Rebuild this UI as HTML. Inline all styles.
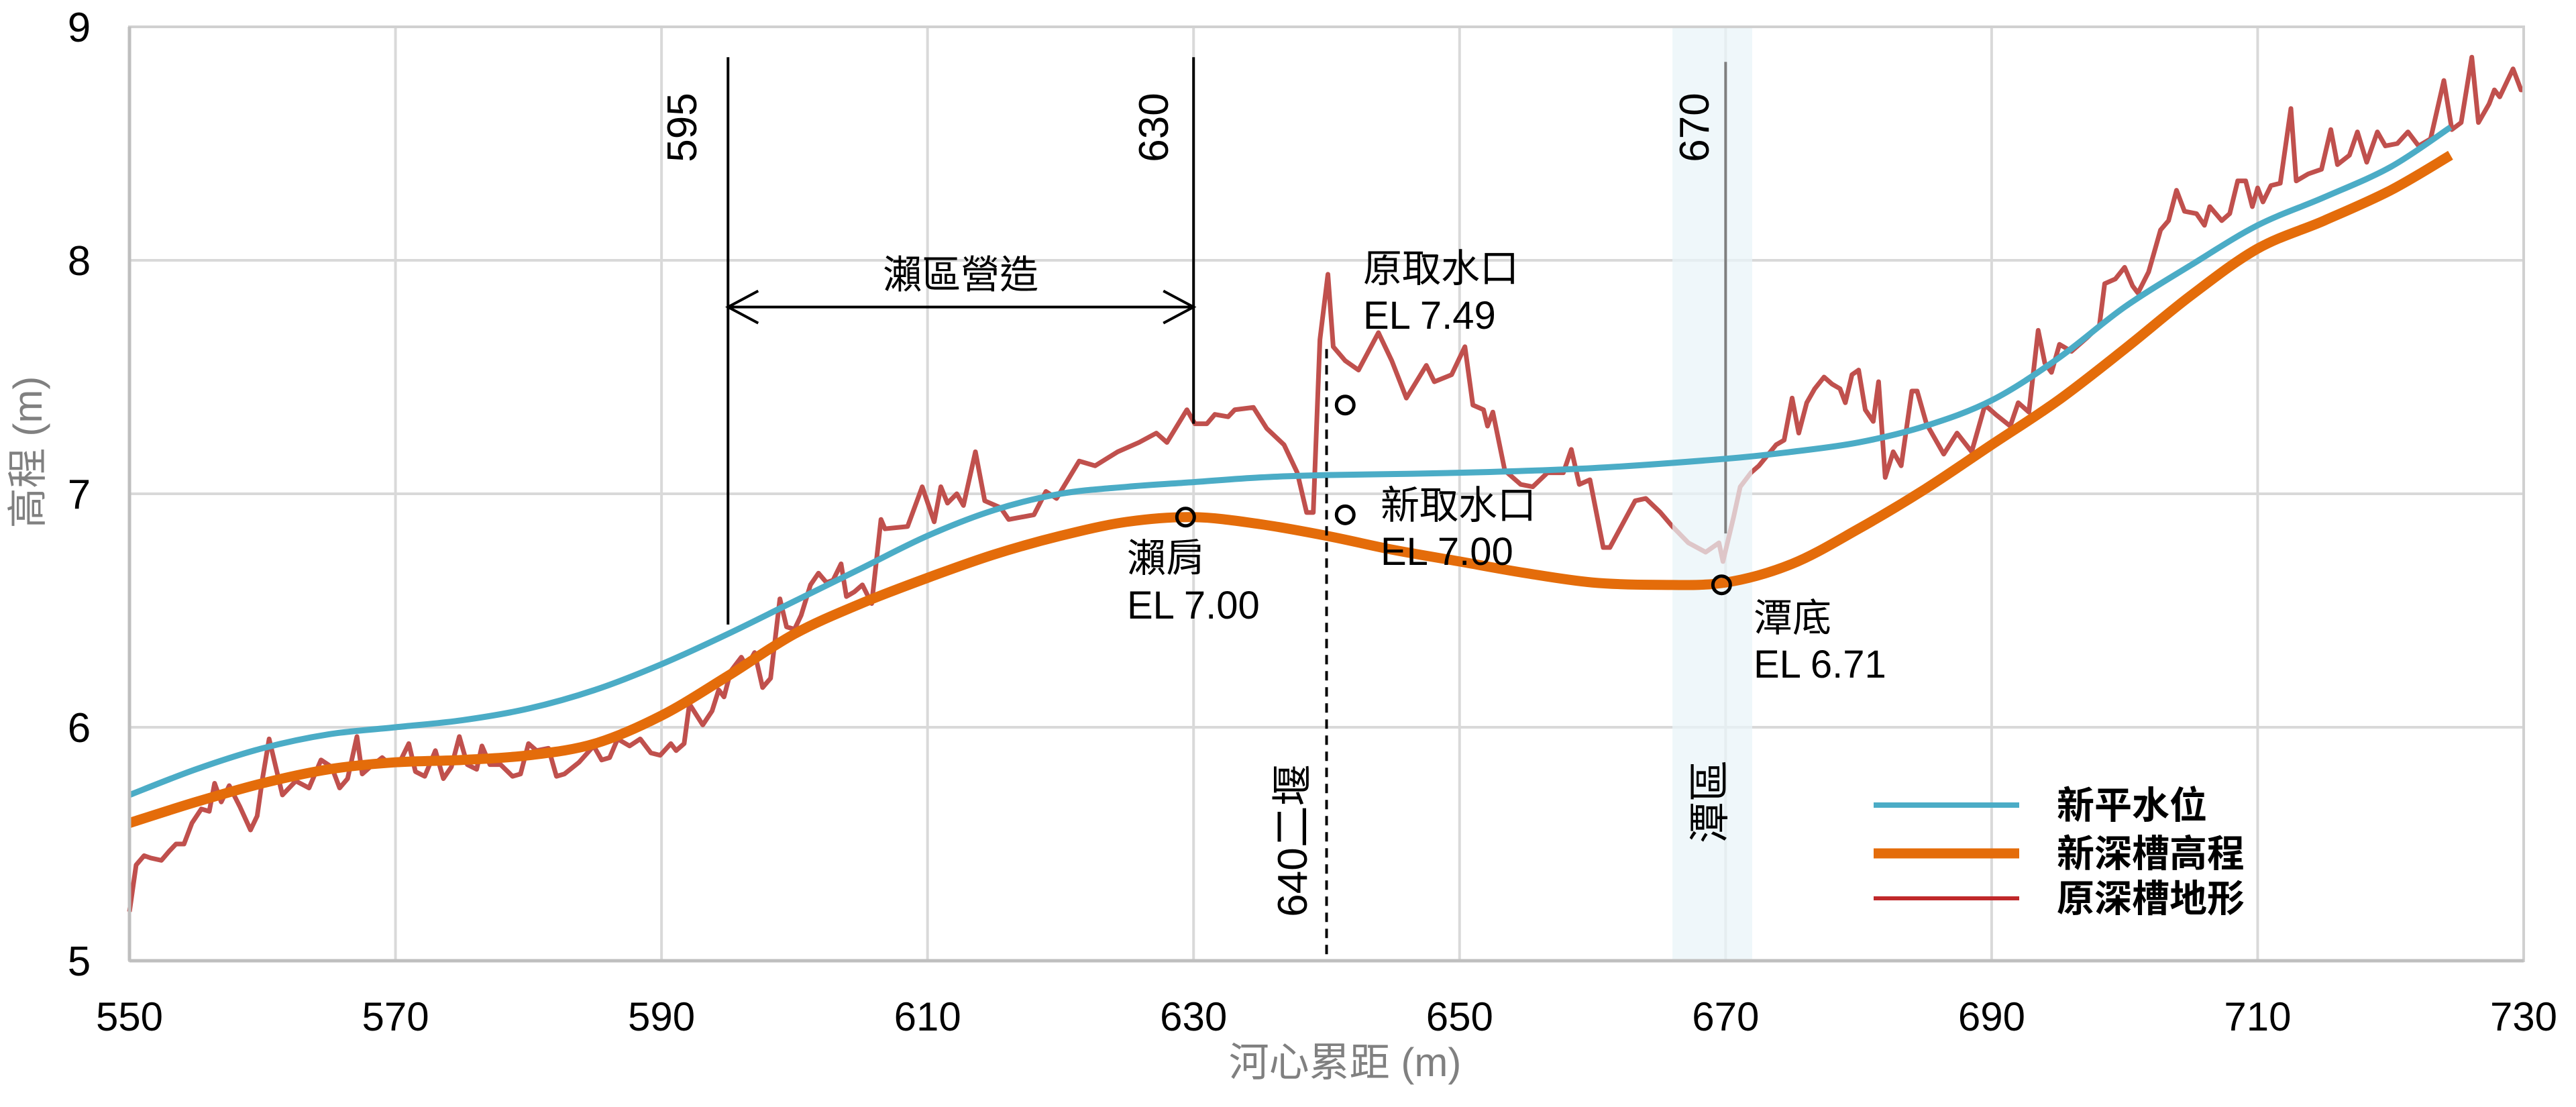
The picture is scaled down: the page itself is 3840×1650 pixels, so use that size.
<!DOCTYPE html>
<html><head><meta charset="utf-8">
<style>
html,body{margin:0;padding:0;background:#fff;}
svg{display:block;font-family:"Liberation Sans","Noto Sans CJK TC",sans-serif;}
</style></head>
<body>
<svg id="chart" width="3840" height="1650" viewBox="0 0 3840 1650" xmlns="http://www.w3.org/2000/svg">
<g id="grid"></g>
<g id="series"></g>
<g id="annot"></g>
<g id="axes"></g>
<g id="legend"></g>
</svg>
<script>
const xTicks=[550,570,590,610,630,650,670,690,710,730];
const yTicks=[5,6,7,8,9];
const waterX=[550,555,560,565,570,575,580,585,590,595,600,605,610,615,620,625,630,635,640,650,660,670,675,680,685,690,695,700,705,710,715,720,724.5];
const waterY=[5.71,5.82,5.91,5.97,6.00,6.03,6.08,6.16,6.27,6.40,6.54,6.68,6.82,6.93,7.00,7.03,7.05,7.07,7.08,7.09,7.11,7.15,7.18,7.22,7.29,7.40,7.58,7.80,7.98,8.15,8.27,8.40,8.57];
const bedX=[550,555,560,565,570,575,580,585,590,595,600,605,610,615,620,625,630,635,640,645,650,655,660,665,670,675,680,685,690,695,700,705,710,715,720,724.5];
const bedY=[5.59,5.68,5.76,5.82,5.85,5.86,5.88,5.93,6.05,6.22,6.40,6.53,6.64,6.74,6.82,6.88,6.90,6.87,6.82,6.76,6.71,6.66,6.62,6.61,6.62,6.70,6.85,7.02,7.21,7.40,7.62,7.85,8.05,8.17,8.30,8.45];
const terrX=[550,550.5,551.1,551.6,552.4,553,553.5,554.1,554.7,555.4,556,556.4,556.9,557.5,558.3,559.1,559.6,560,560.5,561,561.5,562.5,563.5,564.4,565.2,565.8,566.4,567.1,567.5,568.1,569,569.6,570.4,571,571.5,572.2,573,573.6,574.2,574.8,575.4,576.1,576.5,577.1,577.9,578.8,579.4,580,580.6,581.5,582.1,582.7,583.8,584.9,585.5,586.1,586.7,587.6,588.4,589.2,589.9,590.7,591.1,591.7,592.1,593.1,593.8,594.3,594.7,595.2,596,596.4,597,597.6,598.2,598.9,599.4,600,600.5,601.2,601.8,602.4,602.9,603.5,603.9,604.5,605.1,605.8,606.5,606.8,608.5,609.6,610.5,611,611.5,612.2,612.7,613.6,614.3,615.5,616.1,618,618.9,619.7,621.4,622.6,624.3,625.9,627.2,628,629.5,630.1,631,631.6,632.6,633.1,634.5,635.5,636.8,637.8,638.5,639,639.5,640.1,640.5,641.4,642.4,643.9,644.9,646,647.5,648.1,649.4,650.4,651,651.8,652.1,652.5,653.4,654.6,655.5,656.6,657.8,658.4,659,659.8,660.8,661.3,663.2,664,665.1,666,667.2,668.5,669.5,669.8,670.6,671.1,671.9,672.5,673.8,674.4,675,675.5,676.1,676.7,677.4,678,678.6,679,679.5,680,680.5,681.1,681.5,682,682.6,683.2,684,684.4,685.1,686.4,687.4,688.5,689.5,690.3,691.4,692,692.8,693.5,694,694.5,695.1,696,697.2,698.1,698.5,699.3,700,700.6,701,701.8,702.7,703.3,703.9,704.5,705.4,706,706.4,707.3,707.9,708.5,709.1,709.6,710,710.4,711,711.7,712.5,712.9,713.8,714.8,715.5,716,716.9,717.5,718.2,719,719.6,720.5,721.3,722.1,723,724,724.6,725.3,726.1,726.6,727.4,727.8,728.2,729.2,729.8,730];
const terrY=[5.21,5.41,5.45,5.44,5.43,5.47,5.50,5.50,5.59,5.65,5.64,5.76,5.68,5.75,5.66,5.56,5.62,5.78,5.95,5.83,5.71,5.77,5.74,5.86,5.83,5.74,5.78,5.96,5.80,5.83,5.87,5.84,5.86,5.93,5.81,5.79,5.90,5.78,5.83,5.96,5.84,5.82,5.92,5.84,5.84,5.79,5.80,5.93,5.90,5.91,5.79,5.80,5.85,5.92,5.86,5.87,5.95,5.92,5.95,5.89,5.88,5.93,5.90,5.93,6.10,6.01,6.07,6.16,6.13,6.24,6.30,6.26,6.32,6.17,6.21,6.55,6.43,6.42,6.48,6.61,6.66,6.62,6.63,6.70,6.56,6.58,6.61,6.53,6.89,6.85,6.86,7.03,6.88,7.03,6.96,7.00,6.95,7.18,6.97,6.94,6.89,6.91,7.01,6.98,7.14,7.12,7.18,7.22,7.26,7.22,7.36,7.30,7.30,7.34,7.33,7.36,7.37,7.28,7.21,7.09,6.92,6.92,7.66,7.94,7.63,7.57,7.53,7.69,7.57,7.41,7.55,7.48,7.51,7.63,7.38,7.36,7.29,7.35,7.10,7.04,7.03,7.09,7.09,7.19,7.04,7.06,6.77,6.77,6.97,6.98,6.92,6.86,6.79,6.75,6.79,6.71,6.90,7.03,7.09,7.12,7.21,7.23,7.41,7.26,7.39,7.45,7.50,7.47,7.45,7.39,7.51,7.53,7.36,7.31,7.48,7.07,7.18,7.12,7.44,7.44,7.30,7.17,7.26,7.18,7.38,7.34,7.29,7.39,7.35,7.70,7.56,7.52,7.64,7.61,7.67,7.72,7.90,7.92,7.97,7.89,7.86,7.95,8.13,8.17,8.30,8.21,8.20,8.15,8.23,8.17,8.20,8.34,8.34,8.23,8.31,8.25,8.32,8.33,8.65,8.34,8.37,8.39,8.56,8.41,8.45,8.55,8.42,8.55,8.49,8.50,8.55,8.49,8.52,8.77,8.56,8.59,8.87,8.59,8.67,8.73,8.70,8.82,8.73,8.73];

const L=193,R=3762,T=40,B=1432,X0=550,X1=730,Y0=5,Y1=9;
const sx=v=>L+(v-X0)/(X1-X0)*(R-L);
const sy=v=>B-(v-Y0)/(Y1-Y0)*(B-T);
const NS="http://www.w3.org/2000/svg";
function mk(tag,parent,attrs,text){const e=document.createElementNS(NS,tag);for(const k in attrs)e.setAttribute(k,attrs[k]);if(text!==undefined)e.textContent=text;document.getElementById(parent).appendChild(e);return e;}
function smooth(xs,ys){const p=xs.map((x,i)=>[sx(x),sy(ys[i])]);let d=`M${p[0][0]},${p[0][1]}`;for(let i=0;i<p.length-1;i++){const p0=p[Math.max(i-1,0)],p1=p[i],p2=p[i+1],p3=p[Math.min(i+2,p.length-1)];const c1=[p1[0]+(p2[0]-p0[0])/6,p1[1]+(p2[1]-p0[1])/6],c2=[p2[0]-(p3[0]-p1[0])/6,p2[1]-(p3[1]-p1[1])/6];d+=`C${c1[0]},${c1[1]} ${c2[0]},${c2[1]} ${p2[0]},${p2[1]}`;}return d;}

// grid
xTicks.forEach(t=>{const g=mk('line','grid',{x1:sx(t),x2:sx(t),y1:T,y2:B,stroke:'#d9d9d9','stroke-width':4});

});
yTicks.forEach(t=>{const g=mk('line','grid',{x1:L,x2:R,y1:sy(t),y2:sy(t),stroke:'#d9d9d9','stroke-width':4});

});

// terrain
const tp=mk('polyline','series',{points:terrX.map((x,i)=>sx(x)+','+sy(terrY[i])).join(' '),fill:'none',stroke:'#c0504d','stroke-width':7,'stroke-linejoin':'round'});


// pool zone band
const band=mk('rect','series',{x:sx(666),y:T,width:sx(672)-sx(666),height:B-T,fill:'#e9f4f8','fill-opacity':0.72});


const gl=mk('line','series',{x1:sx(670),x2:sx(670),y1:sy(8.85),y2:sy(6.83),stroke:'#7f7f7f','stroke-width':4});


const wp=mk('path','series',{d:smooth(waterX,waterY),fill:'none',stroke:'#4bacc6','stroke-width':9});


const bp=mk('path','series',{d:smooth(bedX,bedY),fill:'none',stroke:'#e46c0a','stroke-width':15});



// annotations
function vline(x,y1,y2,name,dash){const e=mk('line','annot',{x1:sx(x),x2:sx(x),y1:sy(y1),y2:sy(y2),stroke:'#000','stroke-width':4});if(dash)e.setAttribute('stroke-dasharray','14 10');

}
vline(595,8.87,6.44,'station-595-line');
vline(630,8.87,7.30,'station-630-line');
vline(640,7.62,5,'weir-640-dashed-line',true);
const ay=sy(7.8);
const ar=mk('path','annot',{d:`M${sx(595)},${ay}H${sx(630)}M${sx(595)+45},${ay-24}L${sx(595)},${ay}L${sx(595)+45},${ay+24}M${sx(630)-45},${ay-24}L${sx(630)},${ay}L${sx(630)-45},${ay+24}`,fill:'none',stroke:'#000','stroke-width':4});


function txt(x,y,s,name,opts){const o=Object.assign({'font-size':58,fill:'#000'},opts||{});o.x=x;o.y=y;const e=mk('text','annot',o,s);

return e;}
function rtxt(x,y,s,name){const e=mk('text','annot',{x:0,y:0,'font-size':62,'text-anchor':'middle',transform:`translate(${x},${y}) rotate(-90)`},s);

}
rtxt(1038,190,'595','label-595');
rtxt(1741,190,'630','label-630');
rtxt(2547,190,'670','label-670');
rtxt(1948,1253,'640二堰','label-640-weir');
rtxt(2570,1195,'潭區','label-pool-zone');
txt(sx(612.5),sy(7.8)-28,'瀨區營造','label-riffle-construction',{'text-anchor':'middle'});
txt(2032,420,'原取水口','label-old-intake');
txt(2032,490,'EL 7.49','label-old-intake-el');
txt(2058,773,'新取水口','label-new-intake');
txt(2058,842,'EL 7.00','label-new-intake-el');
txt(1680,852,'瀨肩','label-riffle-crest');
txt(1680,922,'EL 7.00','label-riffle-crest-el');
txt(2614,941,'潭底','label-pool-bottom');
txt(2614,1010,'EL 6.71','label-pool-bottom-el');
[[641.4,7.38,'old-intake-marker'],[641.4,6.91,'new-intake-marker'],[629.4,6.90,'riffle-crest-marker'],[669.7,6.61,'pool-bottom-marker']].forEach(m=>{const c=mk('circle','annot',{cx:sx(m[0]),cy:sy(m[1]),r:13,fill:'none',stroke:'#000','stroke-width':5});

});

// axes
const fr=mk('rect','axes',{x:L,y:T,width:R-L,height:B-T,fill:'none',stroke:'#d0d0d0','stroke-width':4});


const xa=mk('line','axes',{x1:L,x2:R,y1:B,y2:B,stroke:'#bfbfbf','stroke-width':5});


const ya=mk('line','axes',{x1:L,x2:L,y1:T,y2:B,stroke:'#bfbfbf','stroke-width':5});


xTicks.forEach(t=>{const e=mk('text','axes',{x:sx(t),y:1536,'font-size':60,'text-anchor':'middle',fill:'#000'},String(t));

});
yTicks.forEach(t=>{const e=mk('text','axes',{x:118,y:sy(t)+22,'font-size':62,'text-anchor':'middle',fill:'#000'},String(t));

});
const xt=mk('text','axes',{x:2005,y:1604,'font-size':60,'text-anchor':'middle',fill:'#808080'},'河心累距 (m)');


const yt=mk('text','axes',{x:0,y:0,'font-size':60,'text-anchor':'middle',fill:'#808080',transform:'translate(62,674) rotate(-90)'},'高程 (m)');



// legend
[['新平水位','#4bacc6',8,1200,'legend-entry-water-level'],['新深槽高程','#e46c0a',15,1272,'legend-entry-new-thalweg'],['原深槽地形','#c0282a',6,1339,'legend-entry-original-terrain']].forEach(l=>{
const ln=mk('line','legend',{x1:2793,x2:3010,y1:l[3],y2:l[3],stroke:l[1],'stroke-width':l[2]});


const t=mk('text','legend',{x:3066,y:l[3]+20,'font-size':56,'font-weight':'bold',fill:'#000'},l[0]);

});
</script>
</body></html>
